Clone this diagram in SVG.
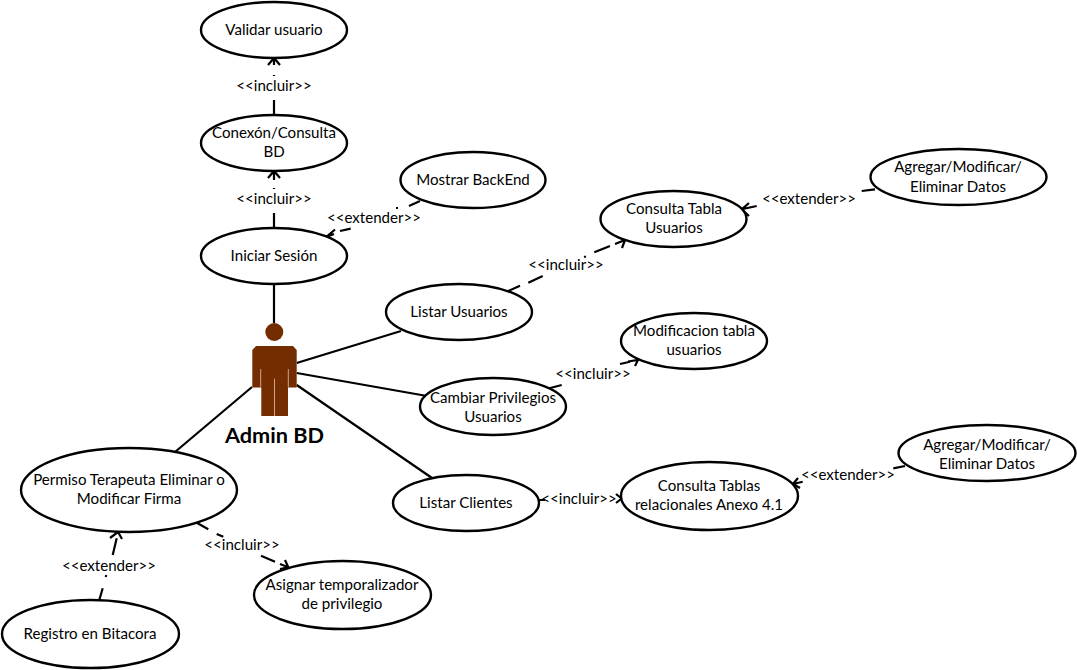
<svg xmlns="http://www.w3.org/2000/svg" width="1077" height="670" viewBox="0 0 1077 670">
<style>
text{font-family:"Lato","Carlito","Liberation Sans",sans-serif;font-size:15.1px;fill:#000;text-anchor:middle}
.n ellipse{fill:#fff;stroke:#000;stroke-width:2.4}
.c path{fill:none;stroke:#000;stroke-width:2.2}
.a{fill:#742d00}
.s{stroke:#c9a591;stroke-width:1;fill:none}
#actor .t{font-weight:700;font-size:21.700px}
</style>
<rect width="1077" height="670" fill="#fff"/>
<g id="connectors" class="c">
<path d="M274 284V323M296.700 363L401 331M296.700 373L427 396M296.700 385L432 478M175 452L252 387"/>
<path d="M274 65V58M268 65L274 58L280 65M274 75V76M274 100V115"/>
<path d="M274 180V171M268 178L274 171L280 178M274 188V189M274 213V228"/>
<path d="M420 201L409 206M398 208H396M350.700 228.700L340 231M334 234L326.700 236.700M335 229.500L326.700 236.700L332 243"/>
<path d="M506.700 291.700L520 285.700M528.300 282.700L542.700 276M584 257L586 256.500M594.300 252.300L610 246M615 244L625 240M617 236.500L625 240L622 248"/>
<path d="M875 189.300L861.700 191M756.700 206L741.700 209.300M749 203L741.700 209.300L749 216"/>
<path d="M549.300 388.300L561.700 385M620 364L630 361.700M628 361.500L638 360L635 366"/>
<path d="M539 500H545M616 494L621.600 498.500L616 503"/>
<path d="M905 466L893.300 468.300M802.700 481.700L793 484M798 478L793 484L800 488"/>
<path d="M196.700 522.700L208.300 529.300M216.700 534L223.300 536.700M261 555.700L275 561.700M280 564L288.300 567.300M285 560L288.300 567.300L280 569"/>
<path d="M99.300 600L102.700 588.300M105.700 577L106.300 575M112.700 555L116.700 538.300M110 538L118 532L122 539"/>
</g>
<g id="actor">
<circle class="a" cx="274.300" cy="332" r="9"/>
<path class="a" d="M256 346H293L296.700 350V387.600H288V416H261.300V387.600H252.300V350Z"/>
<path class="s" d="M260.700 369V387M288.300 369V387M274.500 378.600V416"/>
<text class="t" x="274.500" y="443">Admin BD</text>
</g>
<g class="n">
<g id="validar"><ellipse cx="274" cy="30" rx="73" ry="28"/><text x="274" y="35">Validar usuario</text></g>
<g id="conexion"><ellipse cx="274" cy="143" rx="73" ry="28"/><text x="274" y="138">Conexón/Consulta</text><text x="274" y="157">BD</text></g>
<g id="iniciar"><ellipse cx="274" cy="256" rx="73" ry="28"/><text x="274" y="261">Iniciar Sesión</text></g>
<g id="backend"><ellipse cx="473" cy="180" rx="72.500" ry="28"/><text x="473" y="185">Mostrar BackEnd</text></g>
<g id="listar-usuarios"><ellipse cx="459" cy="312" rx="73" ry="28"/><text x="459" y="317">Listar Usuarios</text></g>
<g id="consulta-tabla"><ellipse cx="673.500" cy="219" rx="73" ry="28"/><text x="674" y="214">Consulta Tabla</text><text x="674" y="233">Usuarios</text></g>
<g id="agregar-1"><ellipse cx="958.500" cy="177" rx="88" ry="28"/><text x="958" y="172">Agregar/Modificar/</text><text x="958" y="192">Eliminar Datos</text></g>
<g id="modificacion"><ellipse cx="694" cy="341" rx="73" ry="28"/><text x="694" y="336">Modificacion tabla</text><text x="694" y="355">usuarios</text></g>
<g id="cambiar"><ellipse cx="493" cy="406.500" rx="73" ry="28.500"/><text x="493" y="403">Cambiar Privilegios</text><text x="493" y="422">Usuarios</text></g>
<g id="listar-clientes"><ellipse cx="466" cy="503" rx="73" ry="28"/><text x="466" y="508">Listar Clientes</text></g>
<g id="consulta-tablas"><ellipse cx="709.500" cy="496" rx="88.500" ry="34"/><text x="709" y="491">Consulta Tablas</text><text x="709" y="510">relacionales Anexo 4.1</text></g>
<g id="agregar-2"><ellipse cx="987" cy="453" rx="88.500" ry="28"/><text x="987" y="450">Agregar/Modificar/</text><text x="987" y="469">Eliminar Datos</text></g>
<g id="permiso"><ellipse cx="129" cy="490" rx="108" ry="42"/><text x="129" y="485">Permiso Terapeuta Eliminar o</text><text x="129" y="504">Modificar Firma</text></g>
<g id="asignar"><ellipse cx="342.500" cy="595" rx="88.500" ry="34"/><text x="342" y="590">Asignar temporalizador</text><text x="342" y="609">de privilegio</text></g>
<g id="registro"><ellipse cx="90.500" cy="634" rx="88.500" ry="34"/><text x="90" y="639">Registro en Bitacora</text></g>
</g>
<g id="labels">
<text x="274" y="91">&lt;&lt;incluir&gt;&gt;</text>
<text x="274" y="204">&lt;&lt;incluir&gt;&gt;</text>
<text x="374" y="223">&lt;&lt;extender&gt;&gt;</text>
<text x="566" y="270">&lt;&lt;incluir&gt;&gt;</text>
<text x="809" y="204">&lt;&lt;extender&gt;&gt;</text>
<text x="593" y="379">&lt;&lt;incluir&gt;&gt;</text>
<text x="848" y="480">&lt;&lt;extender&gt;&gt;</text>
<text x="579" y="504">&lt;&lt;incluir&gt;&gt;</text>
<text x="242" y="550">&lt;&lt;incluir&gt;&gt;</text>
<text x="109" y="571">&lt;&lt;extender&gt;&gt;</text>
</g>
</svg>
